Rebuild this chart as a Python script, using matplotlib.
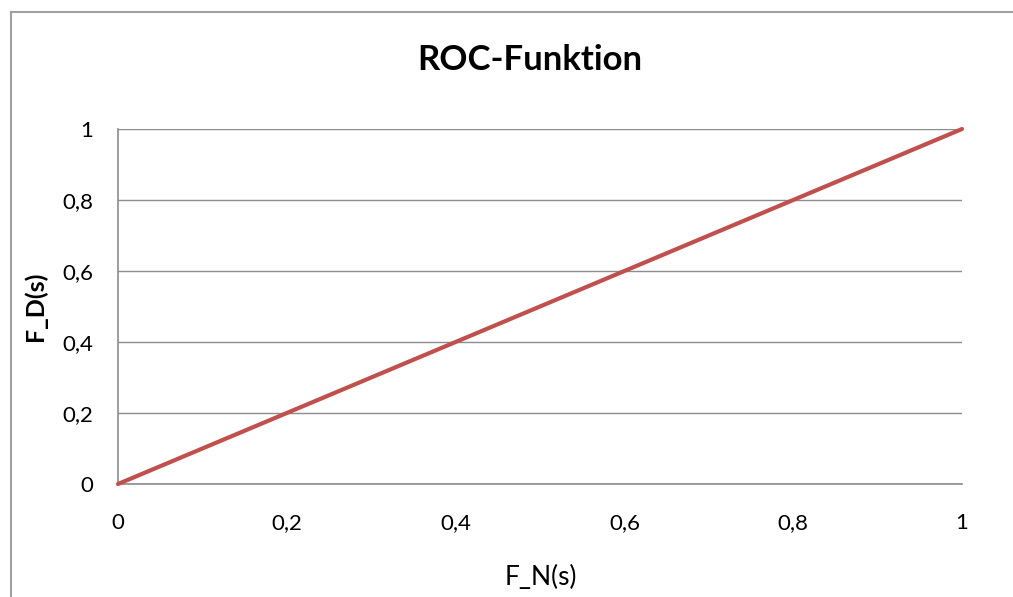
import matplotlib
matplotlib.use('Agg')
import numpy as np
import matplotlib.pyplot as plt
from matplotlib.lines import Line2D

# ROC data (diagonal)
fn_values = [0, 0.2, 0.4, 0.6, 0.8, 1]
fd_values = [0, 0.2, 0.4, 0.6, 0.8, 1]
tick_values = [0, 0.2, 0.4, 0.6, 0.8, 1]
tick_labels = ['0', '0,2', '0,4', '0,6', '0,8', '1']

plt.rcParams['font.family'] = ['Lato', 'DejaVu Sans']

fig = plt.figure(figsize=(10.13, 5.97), dpi=100)
W, H = 1013, 597

# outer chart frame (cropped on right/bottom): only left and top edges visible
x0, y0 = 10.5 / W, 1 - 11.5 / H
fig.lines.append(Line2D([x0, x0], [0, y0], transform=fig.transFigure,
                        color='#a0a0a0', linewidth=1.5))
fig.lines.append(Line2D([x0, 1], [y0, y0], transform=fig.transFigure,
                        color='#a0a0a0', linewidth=1.5))

ax = fig.add_axes([118 / W, 1 - 484 / H, (962 - 118) / W, (484 - 129) / H])
ax.plot(fn_values, fd_values, color='#C0504D', linewidth=3, solid_capstyle='round',
        clip_on=False, zorder=3)

ax.set_xlim(0, 1)
ax.set_ylim(0, 1)
ax.set_xticks(tick_values)
ax.set_xticklabels(tick_labels)
ax.set_yticks(tick_values)
ax.set_yticklabels(tick_labels)
ax.tick_params(length=0, labelsize=16, colors='black')
ax.tick_params(axis='x', pad=21)
ax.tick_params(axis='y', pad=18)

ax.grid(axis='y', color='#8c8c8c', linewidth=1)
ax.set_axisbelow(True)
for s in ['top', 'right']:
    ax.spines[s].set_visible(False)
for s in ['left', 'bottom']:
    ax.spines[s].set_color('#8c8c8c')
    ax.spines[s].set_linewidth(1.2)

fig.text(530 / W, 1 - 60 / H, 'ROC-Funktion', ha='center', va='center',
         fontsize=25, fontweight='bold')
fig.text(541 / W, 1 - 577 / H, 'F_N(s)', ha='center', va='center', fontsize=19)
fig.text(35 / W, 1 - 306 / H, 'F_D(s)', ha='center', va='center', fontsize=18,
         fontweight='bold', rotation=90)

fig.savefig('out.png', dpi=100)
